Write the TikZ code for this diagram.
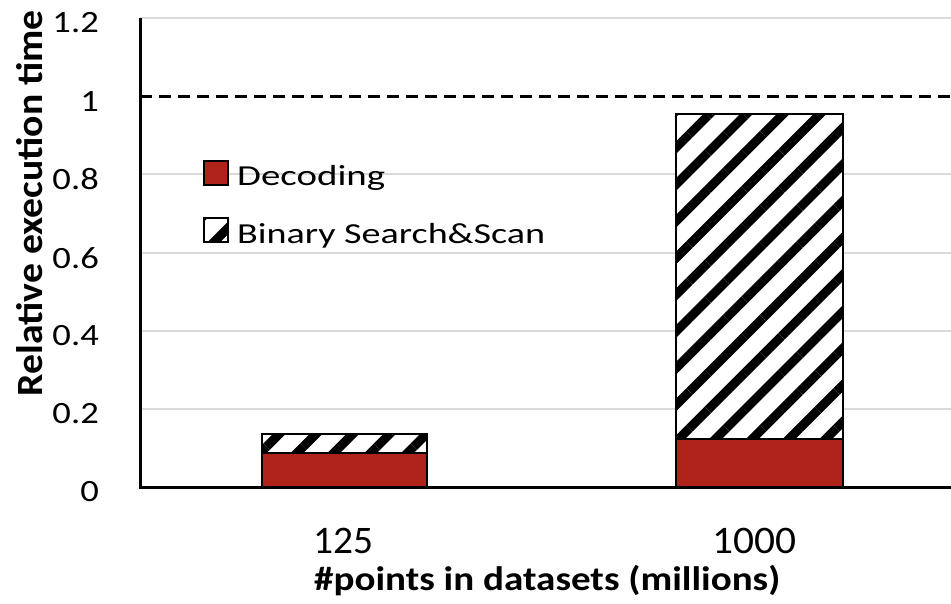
\documentclass[tikz,border=0pt]{standalone}
\usepackage{graphicx}
\usepackage{fontspec}
\setmainfont{Carlito}
\usetikzlibrary{patterns.meta}
\definecolor{barred}{HTML}{B0231A}
\definecolor{gridgray}{HTML}{D9D9D9}
\newcommand{\hstretch}[2]{\scalebox{#1}[1]{#2}}
\newcommand{\fitwidth}[2]{\resizebox{#1}{\height}{#2}}
\tikzset{
  gridline/.style={draw=gridgray,line width=2.5pt},
  axisline/.style={draw=black,line width=3pt},
  redbar/.style={draw=black,line width=2.5pt,fill=barred},
  hatchbar/.style={draw=black,line width=2.5pt,fill=white,
    postaction={pattern={Lines[angle=45,distance=26pt,line width=9pt]},pattern color=black}},
  ticklabel/.style={anchor=east,font=\fontsize{31}{36}\selectfont,inner sep=0pt},
  xlabel/.style={anchor=base,font=\fontsize{39}{44}\selectfont,inner sep=0pt},
  title/.style={anchor=base west,font=\bfseries\fontsize{34}{40}\selectfont,inner sep=0pt},
  ytitle/.style={anchor=base,rotate=90,font=\bfseries\fontsize{37}{42}\selectfont,inner sep=0pt},
  legtext/.style={anchor=base west,font=\fontsize{29}{34}\selectfont,inner sep=0pt}
}
\begin{document}
\begin{tikzpicture}[x=1pt,y=-1pt]
\useasboundingbox (0,0) rectangle (951,603);
% grid
\foreach \yy in {409,331,253,174,18}{
  \draw[gridline] (140,\yy) -- (951,\yy);
}
% tick labels
\node[ticklabel] (t0) at (99,492) {\hstretch{1.18}{0}};
\node[ticklabel] (t02) at (99,414) {\hstretch{1.18}{0.2}};
\node[ticklabel] (t04) at (99,336) {\hstretch{1.18}{0.4}};
\node[ticklabel] (t06) at (99,258) {\hstretch{1.18}{0.6}};
\node[ticklabel] (t08) at (99,179) {\hstretch{1.18}{0.8}};
\node[ticklabel] (t1) at (99,102) {\hstretch{1.18}{1}};
\node[ticklabel] (t12) at (99,23) {\hstretch{1.18}{1.2}};
% bars
\path[redbar] (262,487) rectangle (427,453);
\path[hatchbar] (262,453) rectangle (427,434);
\path[redbar] (676,487) rectangle (843,439);
\path[hatchbar] (676,439) rectangle (843,114);
% dashed reference line
\draw[black,line width=3pt,dash pattern=on 12pt off 7pt] (140,96) -- (951,96);
% axes
\draw[axisline] (140,18) -- (140,487) -- (951,487);
% x labels
\node[xlabel] (x125) at (343,553) {\fitwidth{60pt}{125}};
\node[xlabel] (x1000) at (754,553) {\fitwidth{84pt}{1000}};
\node[title] (xt) at (314,590) {\fitwidth{466pt}{\#points in datasets (millions)}};
\node[ytitle] (yt) at (42,203) {\fitwidth{386pt}{Relative execution time}};
% legend
\path[redbar,line width=2pt] (204,161) rectangle (228,185);
\node[legtext] (l1) at (237,185) {\fitwidth{148pt}{Decoding}};
\path[hatchbar,line width=2pt] (204,218) rectangle (228,242);
\node[legtext] (l2) at (237,243) {\fitwidth{308pt}{Binary Search\&Scan}};
\end{tikzpicture}
\end{document}
